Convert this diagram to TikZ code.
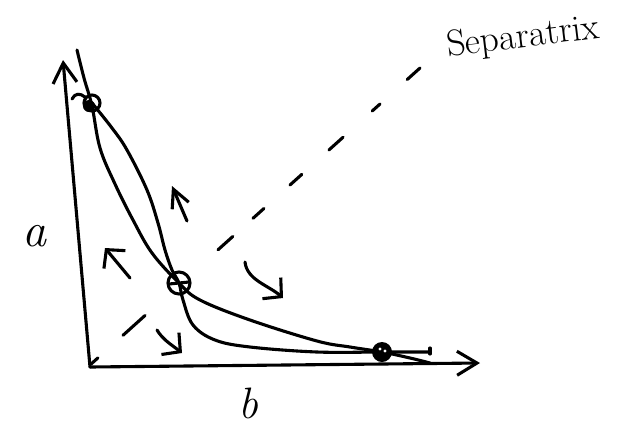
\documentclass[tikz,border=0pt]{standalone}
\usetikzlibrary{arrows.meta,calc}
\begin{document}
\begin{tikzpicture}[x=1pt,y=-1pt,
  ink/.style={line width=3.1pt,line cap=round,line join=round},
  axisarrow/.style={ink,-{Straight Barb[length=20pt,width=24pt]}},
  flowarrow/.style={ink,-{Straight Barb[length=13pt,width=28pt]}},
  narrowflow/.style={ink,-{Straight Barb[length=18pt,width=18pt]}},
  lbl/.style={font=\fontsize{44}{44}\selectfont\itshape}]
\useasboundingbox (0,0) rectangle (628,432);
% axes
\coordinate (O) at (90,367);
\coordinate (ytip) at (63,60);
\coordinate (xtip) at (480,363);
\draw[axisarrow] (O) -- (ytip);
\draw[axisarrow] (O) -- (xtip);
% fixed points
\coordinate (P1) at (92,103);
\coordinate (P2) at (179,283);
\coordinate (P3) at (382,352);
% nullcline A
\draw[ink] plot[smooth,tension=0.6] coordinates {(77,50) (84,78) (92,106) (100,148) (115,184) (133,220) (152,253) (179,283) (200,300) (250,320) (317,341) (350,347) (382,352) (410,358) (430,363)};
% nullcline B
\draw[ink] plot[smooth,tension=0.6] coordinates {(92,103) (112,128) (127,150) (147,190) (158,223) (165,250) (172,270) (179,283) (183,300) (193,325) (215,340) (250,347) (317,352) (382,352) (430,352)};
\draw[ink] (72,99) .. controls (75,93) and (80,93) .. (85,97);
\draw[ink] (430,348) -- (430,354);
% fixed point markers
\draw[ink] (P1) circle[radius=8];
\fill ($(P1)+(-3,3)$) circle[radius=6];
\draw[ink] (P2) circle[radius=11];
\draw[ink] ($(P2)+(-10,1)$) -- ($(P2)+(10,-1)$);
\fill (P3) circle[radius=10];
\fill[white] ($(P3)+(-2,-3)$) circle[radius=1.6];
\fill[white] ($(P3)+(3,-1)$) circle[radius=1.6];
% flow arrows
\coordinate (f1a) at (187,221); \coordinate (f1b) at (172,186);
\coordinate (f2a) at (130,278); \coordinate (f2b) at (105,248);
\coordinate (f3a) at (245,262); \coordinate (f3b) at (283,298);
\coordinate (f4a) at (157,330); \coordinate (f4b) at (182,353);
\draw[narrowflow] (f1a) -- (f1b);
\draw[flowarrow] (f2a) -- (f2b);
\draw[flowarrow] (f3a) .. controls (247,280) and (268,285) .. (f3b);
\draw[flowarrow] (f4a) .. controls (163,340) and (172,345) .. (f4b);
% separatrix
\coordinate (S0) at (90,365);
\coordinate (S1) at (420,68);
\foreach \a/\b in {0.003/0.024, 0.1/0.167, 0.388/0.433, 0.494/0.527, 0.606/0.642, 0.724/0.767, 0.855/0.879, 0.961/1.0}
  \draw[ink] ($(S0)!\a!(S1)$) -- ($(S0)!\b!(S1)$);
% labels
\node[lbl,font=\fontsize{48}{48}\selectfont\itshape] (la) at (34,236) {a};
\node[lbl] (lb) at (248,403) {b};
\node[font=\fontsize{37}{37}\selectfont, rotate=7] (sep) at (523,38) {Separatrix};
\end{tikzpicture}
\end{document}
